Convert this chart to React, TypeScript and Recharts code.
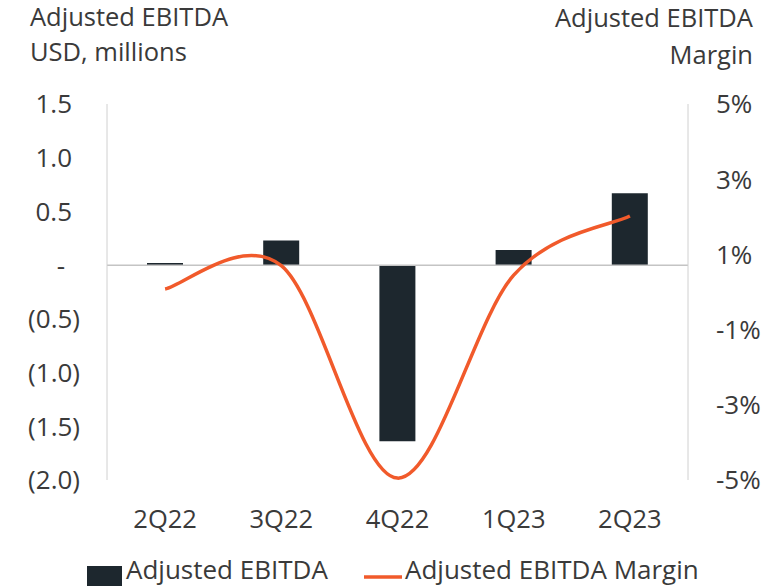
import { ComposedChart, Bar, Line, XAxis, YAxis, ReferenceLine } from "recharts"

document.body.style.margin = "0"

const quarters = ["2Q22", "3Q22", "4Q22", "1Q23", "2Q23"]
const ebitda = [0.02, 0.23, -1.64, 0.14, 0.67]
const marginPct = [0.08, 0.7, -4.95, 0.45, 2.02]
const leftTicks = [-2, -1.5, -1, -0.5, 0, 0.5, 1, 1.5]
const rightTicks = [-5, -3, -1, 1, 3, 5]

const data = quarters.map((q, i) => ({ quarter: q, ebitda: ebitda[i], margin: marginPct[i] }))

const FONT = "'Open Sans', sans-serif"
const TEXT = "#3a3a3a"
const BAR = "#1d272e"
const LINE = "#f15a2b"
const AXIS = "#d0d0d0"

// Excel-style smoothed line (catmull-rom as bezier)
const excelSmooth = (context: any) => {
    let pts: number[][] = []
    return {
        areaStart() {},
        areaEnd() {},
        lineStart() {
            pts = []
        },
        point(x: number, y: number) {
            pts.push([+x, +y])
        },
        lineEnd() {
            if (!pts.length) return
            context.moveTo(pts[0][0], pts[0][1])
            for (let i = 0; i < pts.length - 1; i++) {
                const p0 = pts[Math.max(i - 1, 0)]
                const p1 = pts[i]
                const p2 = pts[i + 1]
                const p3 = pts[Math.min(i + 2, pts.length - 1)]
                context.bezierCurveTo(
                    p1[0] + (p2[0] - p0[0]) / 6,
                    p1[1] + (p2[1] - p0[1]) / 6,
                    p2[0] - (p3[0] - p1[0]) / 6,
                    p2[1] - (p3[1] - p1[1]) / 6,
                    p2[0],
                    p2[1]
                )
            }
        },
    }
}

const fmtLeft = (v: number) => {
    if (v === 0) return "-"
    const s = Math.abs(v).toFixed(1)
    return v < 0 ? `(${s})` : s
}

const LeftTick = ({ x, y, payload }: any) => {
    const v = payload.value
    const shift = v === 0 ? 34 : v < 0 ? 19 : 27
    return (
        <text x={x - shift} y={y} dy="0.36em" textAnchor="end" fontSize={26} fill={TEXT} fontFamily={FONT}>
            {fmtLeft(v)}
        </text>
    )
}

const RightTick = ({ x, y, payload }: any) => (
    <text x={x + 20} y={y} dy="0.36em" textAnchor="start" fontSize={26} fill={TEXT} fontFamily={FONT}>
        {`${payload.value}%`}
    </text>
)

const BottomTick = ({ x, y, payload }: any) => (
    <text x={x} y={y} dy={40} textAnchor="middle" fontSize={25.5} fill={TEXT} fontFamily={FONT}>
        {payload.value}
    </text>
)

export default function App() {
    return (
        <div style={{ position: "relative", width: 779, height: 586, background: "#fff", overflow: "hidden" }}>
            <ComposedChart
                width={779}
                height={586}
                data={data}
                margin={{ top: 104, right: 0, bottom: 46, left: 0 }}
            >
                <XAxis
                    dataKey="quarter"
                    height={60}
                    axisLine={false}
                    tickLine={false}
                    tick={<BottomTick />}
                    interval={0}
                />
                <YAxis
                    yAxisId="left"
                    width={107}
                    domain={[-2, 1.5]}
                    ticks={leftTicks}
                    stroke={AXIS}
                    tickLine={false}
                    tick={<LeftTick />}
                    interval={0}
                />
                <YAxis
                    yAxisId="right"
                    orientation="right"
                    width={91}
                    domain={[-5, 5]}
                    ticks={rightTicks}
                    stroke={AXIS}
                    tickLine={false}
                    tick={<RightTick />}
                    interval={0}
                />
                <ReferenceLine yAxisId="left" y={0} stroke="#c4c4c4" strokeWidth={1.5} />
                <Bar yAxisId="left" dataKey="ebitda" fill={BAR} barSize={36} isAnimationActive={false} />
                <Line
                    yAxisId="right"
                    dataKey="margin"
                    type={excelSmooth as any}
                    stroke={LINE}
                    strokeWidth={3.5}
                    dot={false}
                    isAnimationActive={false}
                />
            </ComposedChart>
            <svg
                width={779}
                height={586}
                style={{ position: "absolute", left: 0, top: 0, pointerEvents: "none" }}
                fontFamily={FONT}
                fill={TEXT}
            >
                <text x={30} y={26} fontSize={25.5}>Adjusted EBITDA</text>
                <text x={30} y={61} fontSize={25.5}>USD, millions</text>
                <text x={753} y={27} fontSize={25.5} textAnchor="end">Adjusted EBITDA</text>
                <text x={753} y={64} fontSize={25.5} textAnchor="end">Margin</text>
                <rect x={87} y={566} width={35} height={20} fill={BAR} />
                <text x={126} y={579} fontSize={26}>Adjusted EBITDA</text>
                <line x1={364} x2={402} y1={577} y2={577} stroke={LINE} strokeWidth={3.5} />
                <text x={405} y={579} fontSize={26}>Adjusted EBITDA Margin</text>
            </svg>
        </div>
    )
}
